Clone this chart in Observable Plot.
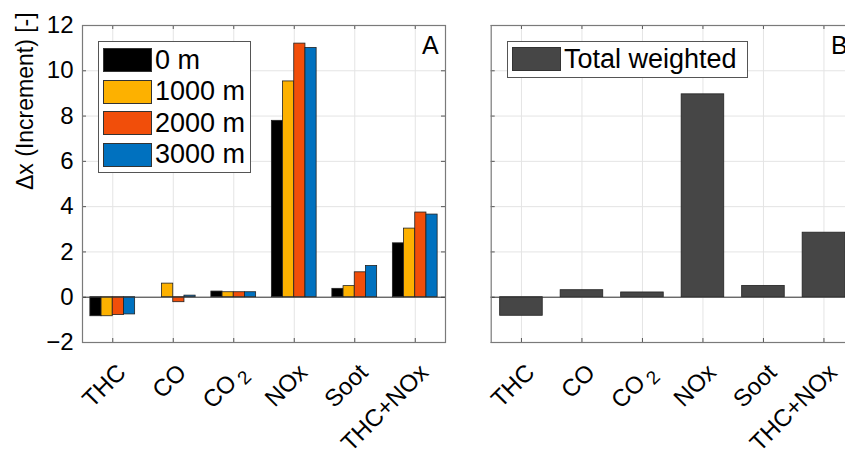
<!DOCTYPE html>
<html><head><meta charset="utf-8">
<script src="https://cdn.jsdelivr.net/npm/d3@7"></script>
<script src="https://cdn.jsdelivr.net/npm/@observablehq/plot@0.6"></script>
<style>
body{margin:0;background:#fff;font-family:"Liberation Sans",Arial,sans-serif;}
#wrap{position:relative;width:845px;height:452px;overflow:hidden;background:#fff;}
.panel{position:absolute;top:0;}
.legend{position:absolute;border:1px solid #555;background:#fff;font-size:27px;color:#000;line-height:1;}
.row{position:absolute;left:4px;height:24px;display:flex;align-items:center;white-space:nowrap;}
.sw{width:47px;height:22px;border:1px solid #333;margin-right:3px;flex:none;}
.lab{position:absolute;font-size:25px;color:#000;}
</style></head>
<body>
<div id="wrap"></div>
<script>
const categories = ["THC", "CO", "CO2", "NOx", "Soot", "THC+NOx"];
const altitudes = ["0 m", "1000 m", "2000 m", "3000 m"];
const alt0 = [-0.84, 0.0, 0.25, 7.79, 0.37, 2.38];
const alt1000 = [-0.84, 0.60, 0.22, 9.53, 0.49, 3.03];
const alt2000 = [-0.79, -0.22, 0.22, 11.20, 1.10, 3.74];
const alt3000 = [-0.76, 0.07, 0.22, 11.01, 1.38, 3.65];
const totalWeighted = [-0.82, 0.31, 0.21, 8.96, 0.50, 2.85];
const yTicks = [-2, 0, 2, 4, 6, 8, 10, 12];
const altColors = ["#000000", "#FDB100", "#F14E0A", "#0071BF"];
const totalColor = "#464646";

const series = [alt0, alt1000, alt2000, alt3000];
const idx = categories.map((c, i) => i);
const rowsA = [];
series.forEach((vals, s) => vals.forEach((v, i) => rowsA.push({i, s, alt: altitudes[s], v})));
const rowsB = totalWeighted.map((v, i) => ({i, v, name: "Total weighted"}));

const xDom = [-0.5, categories.length - 0.5];
const yDom = [-2, 12];
const groupW = 0.74, barW = groupW / altitudes.length;
const tkX = 4 / 60.5, tkY = 4 / 22.67;
const H = 452, MT = 25, MB = 110;
const FONT = "'Liberation Sans', Arial, sans-serif";

function gridMarks() {
  return [
    Plot.ruleY(yTicks, {stroke: "#e4e4e4", strokeWidth: 1}),
    Plot.ruleX(idx, {stroke: "#e4e4e4", strokeWidth: 1}),
  ];
}
function tickMarks() {
  return [
    Plot.ruleY(yTicks, {x1: xDom[0], x2: xDom[0] + tkX, stroke: "#555"}),
    Plot.ruleY(yTicks, {x1: xDom[1] - tkX, x2: xDom[1], stroke: "#555"}),
    Plot.ruleX(idx, {y1: yDom[0], y2: yDom[0] + tkY, stroke: "#555"}),
    Plot.ruleX(idx, {y1: yDom[1] - tkY, y2: yDom[1], stroke: "#555"}),
    Plot.ruleY([0], {stroke: "#333", strokeWidth: 1}),
    Plot.frame({stroke: "#7a7a7a", strokeWidth: 1.2}),
    Plot.axisX(idx, {tickFormat: i => categories[i], tickRotate: -45, tickSize: 0, tickPadding: 0, dx: 9, dy: 26, fontSize: 24, label: null})
  ];
}

const plotA = Plot.plot({
  width: 450, height: H, marginLeft: 82, marginRight: 5, marginTop: MT, marginBottom: MB,
  style: {fontFamily: FONT, fontSize: "24px", color: "#000", background: "transparent"},
  x: {domain: xDom},
  y: {domain: yDom},
  color: {domain: altitudes, range: altColors},
  marks: [
    ...gridMarks(),
    Plot.rectY(rowsA, {
      x1: d => d.i - groupW / 2 + d.s * barW,
      x2: d => d.i - groupW / 2 + (d.s + 1) * barW,
      y1: 0, y2: "v", fill: "alt", stroke: "#222", strokeWidth: 0.8
    }),
    ...tickMarks(),
    Plot.axisY(yTicks, {tickSize: 0, tickPadding: 9, fontSize: 24, label: null}),
    Plot.text(["Δx (Increment) [-]"], {frameAnchor: "left", rotate: -90, dx: -57, dy: 6, fontSize: 23})
  ]
});

const plotB = Plot.plot({
  width: 409, height: H, marginLeft: 40.7, marginRight: 5.3, marginTop: MT, marginBottom: MB,
  style: {fontFamily: FONT, fontSize: "24px", color: "#000", background: "transparent"},
  x: {domain: xDom},
  y: {domain: yDom, axis: null},
  marks: [
    ...gridMarks(),
    Plot.rectY(rowsB, {x1: d => d.i - 0.352, x2: d => d.i + 0.352, y1: 0, y2: "v", fill: totalColor, stroke: "#222", strokeWidth: 0.8}),
    ...tickMarks()
  ]
});

function fixCO2(svg) {
  svg.querySelectorAll("text").forEach(t => {
    if (t.textContent === "CO2") {
      t.textContent = "CO";
      const ts = document.createElementNS("http://www.w3.org/2000/svg", "tspan");
      ts.setAttribute("dx", "4"); ts.setAttribute("dy", "6"); ts.setAttribute("font-size", "19");
      ts.textContent = "2";
      t.appendChild(ts);
    }
  });
}
fixCO2(plotA); fixCO2(plotB);

const wrap = document.getElementById("wrap");
plotA.classList.add("panel"); plotA.style.left = "0px";
plotB.classList.add("panel"); plotB.style.left = "450px";
wrap.appendChild(plotA); wrap.appendChild(plotB);

const legA = document.createElement("div");
legA.className = "legend";
Object.assign(legA.style, {left: "98px", top: "41px", width: "151px", height: "130px"});
altitudes.forEach((a, s) => {
  const r = document.createElement("div");
  r.className = "row"; r.style.top = (6 + s * 31.5) + "px";
  r.innerHTML = `<div class="sw" style="background:${altColors[s]}"></div><span>${a}</span>`;
  legA.appendChild(r);
});
wrap.appendChild(legA);

const legB = document.createElement("div");
legB.className = "legend";
Object.assign(legB.style, {left: "507px", top: "41px", width: "239px", height: "35px"});
const rb = document.createElement("div");
rb.className = "row"; rb.style.top = "5px";
rb.innerHTML = `<div class="sw" style="background:${totalColor}"></div><span>Total weighted</span>`;
legB.appendChild(rb);
wrap.appendChild(legB);

const la = document.createElement("div"); la.className = "lab"; la.textContent = "A";
Object.assign(la.style, {left: "422px", top: "31px"}); wrap.appendChild(la);
const lb = document.createElement("div"); lb.className = "lab"; lb.textContent = "B";
Object.assign(lb.style, {left: "831px", top: "31px"}); wrap.appendChild(lb);
</script>
</body></html>
